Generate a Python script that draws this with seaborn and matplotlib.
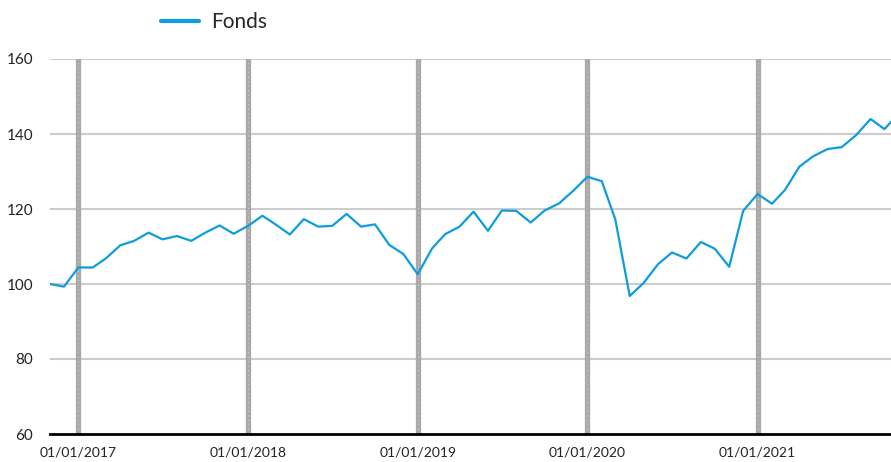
import matplotlib
matplotlib.use("Agg")
import matplotlib.pyplot as plt
import matplotlib.dates as mdates
import seaborn as sns
import pandas as pd
import numpy as np

dates = pd.date_range("2016-11-01", "2021-11-01", freq="MS")
fonds = [
    100.0, 99.3,
    104.4, 104.4, 106.8, 110.3, 111.5, 113.7, 111.9, 112.8, 111.5, 113.7, 115.6, 113.4,
    115.5, 118.2, 115.9, 113.2, 117.3, 115.3, 115.5, 118.7, 115.3, 115.9, 110.4, 108.0,
    102.6, 109.5, 113.3, 115.3, 119.3, 114.2, 119.6, 119.5, 116.4, 119.6, 121.5, 124.8,
    128.6, 127.4, 117.2, 96.8, 100.3, 105.3, 108.4, 106.8, 111.2, 109.4, 104.6, 119.5,
    124.0, 121.4, 125.1, 131.3, 134.1, 136.0, 136.5, 139.7, 144.0, 141.3,
    145.6,
]
year_lines = pd.to_datetime(["2017-01-01", "2018-01-01", "2019-01-01", "2020-01-01", "2021-01-01"])
x_labels = ["01/01/2017", "01/01/2018", "01/01/2019", "01/01/2020", "01/01/2021"]
y_ticks = [60, 80, 100, 120, 140, 160]

df = pd.DataFrame({"Date": dates, "Fonds": fonds})

sns.set_theme(style="white")
plt.rcParams["font.family"] = ["Lato", "DejaVu Sans"]

fig = plt.figure(figsize=(8.91, 4.62), dpi=100)
ax = fig.add_axes([50/891, 1-434/462, 1-50/891, (434-59)/462])

for yv in y_ticks[1:]:
    ax.axhline(yv, color="#cccccc", lw=1.5, zorder=1)

for d in year_lines:
    ax.axvline(d, color="#a9a9a9", lw=3.8, zorder=2)
    ax.axvline(d, color="white", lw=0.5, dashes=(1.5, 5), zorder=2.5, alpha=0.7)

sns.lineplot(data=df, x="Date", y="Fonds", color="#0e9cdc", lw=1.6, ax=ax,
             label="Fonds", zorder=3, legend=False)

ax.set_xlim(pd.Timestamp("2016-11-01"), pd.Timestamp("2021-10-15"))
ax.set_ylim(60, 160)
ax.set_yticks(y_ticks)
ax.set_yticklabels([str(v) for v in y_ticks], fontsize=11, color="#222222")
ax.set_xticks(year_lines)
ax.set_xticklabels(x_labels, fontsize=10, color="#222222")
ax.tick_params(axis="both", length=0)
ax.tick_params(axis="y", pad=12)
ax.tick_params(axis="x", pad=9)
ax.set_xlabel("")
ax.set_ylabel("")
for s in ["left", "right", "top"]:
    ax.spines[s].set_visible(False)
ax.spines["bottom"].set_color("black")
ax.spines["bottom"].set_linewidth(2)
ax.spines["bottom"].set_zorder(4)

handles = [plt.Line2D([0], [0], color="#0e9cdc", lw=3)]
fig.legend(handles, ["Fonds"], loc="center", bbox_to_anchor=(214/891, 1-22/462),
           frameon=False, fontsize=15, handlelength=1.8, handletextpad=0.6)

fig.savefig("out.png", dpi=100)
